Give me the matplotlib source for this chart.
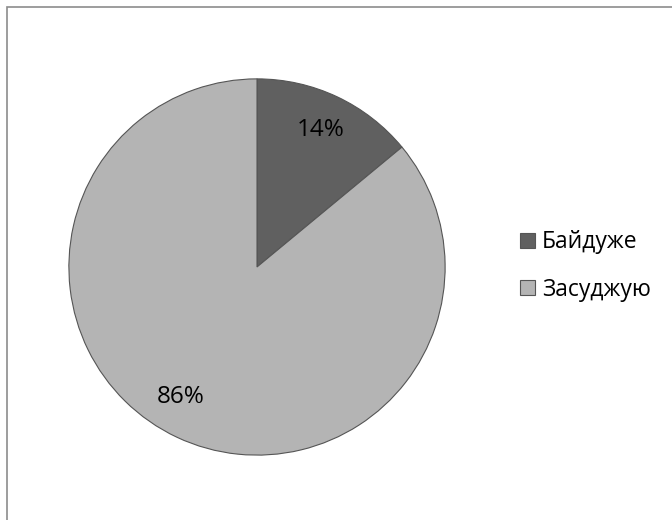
import matplotlib.pyplot as plt
from matplotlib.patches import Rectangle

labels = ['Байдуже', 'Засуджую']
shares = [14, 86]
colors = ['#606060', '#b4b4b4']

plt.rcParams['font.family'] = ['Open Sans', 'DejaVu Sans']

fig = plt.figure(figsize=(6.72, 5.2), dpi=100)

# chart area frame (only top/left edges visible in the original)
fig.patches.append(Rectangle((7 / 672, -0.1), 1.2, 1 - 7 / 520 + 0.1,
                             transform=fig.transFigure, fill=False,
                             edgecolor='#8c8c8c', linewidth=1.2))

cx, cy, r = 257 / 672, 1 - 267 / 520, 190
ax = fig.add_axes([cx - r / 672, cy - r / 520, 2 * r / 672, 2 * r / 520])
wedges, texts, autotexts = ax.pie(
    shares, colors=colors, startangle=90, counterclock=False,
    autopct='%1.0f%%', pctdistance=0.8, radius=1,
    wedgeprops=dict(edgecolor='#555555', linewidth=0.8),
    textprops=dict(fontsize=17.5, color='black'))
autotexts[0].set_position((0.337, 0.73))
autotexts[1].set_position((-0.405, -0.69))
ax.set_xlim(-1.01, 1.01)
ax.set_ylim(-1.01, 1.01)

fig.legend(wedges, labels, loc='center left', bbox_to_anchor=(520 / 672, 1 - 266 / 520),
           frameon=False, fontsize=16.5, handlelength=0.66, handleheight=0.66,
           handletextpad=0.3, labelspacing=1.02, borderpad=0, borderaxespad=0)

fig.savefig('out.png', dpi=100)
